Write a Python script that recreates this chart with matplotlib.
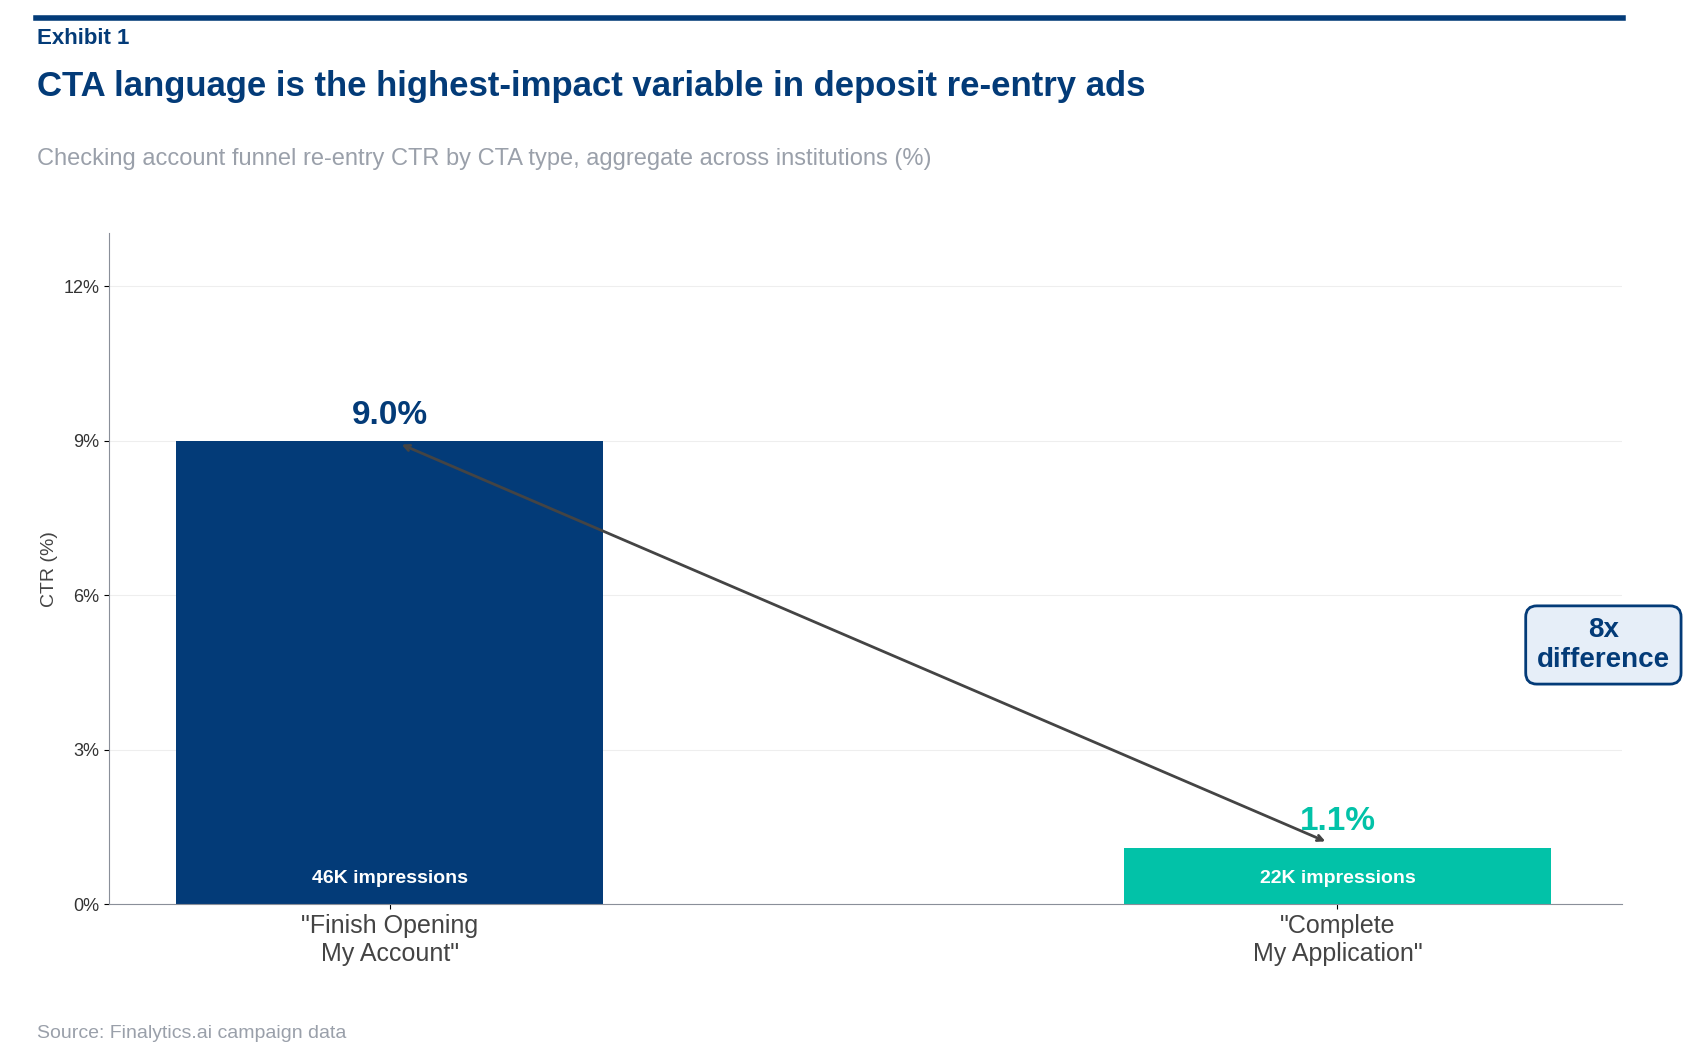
import matplotlib.pyplot as plt
from matplotlib.patches import FancyBboxPatch

plt.rcParams['font.family'] = ['Liberation Sans', 'DejaVu Sans']

categories = ['"Finish Opening\nMy Account"', '"Complete\nMy Application"']
ctr = [9.0, 1.1]
impressions = ['46K impressions', '22K impressions']
colors = ['#033b78', '#02c2a8']
yticks = [0, 3, 6, 9, 12]

W, H = 1568.0, 983.0
fig = plt.figure(figsize=(16.93, 10.62), dpi=100)

def fx(x): return x / W
def fy(y): return 1 - y / H

ax = fig.add_axes([fx(101), fy(837), fx(1502) - fx(101), fy(216) - fy(837)])
xs = list(range(len(categories)))
ax.bar(xs, ctr, width=0.45, color=colors, zorder=2)
ax.set_xlim(-0.296, 1.30)
ax.set_ylim(0, 13.03)
ax.set_yticks(yticks, labels=[f'{t}%' for t in yticks], fontsize=13, color='#333333')
ax.set_xticks(xs, labels=categories, fontsize=18, color='#444444')
ax.grid(axis='y', color='#eeeeee', zorder=0)
for s in ['top', 'right']:
    ax.spines[s].set_visible(False)
for s in ['left', 'bottom']:
    ax.spines[s].set_color('#8a8f99')
ax.set_ylabel('CTR (%)', fontsize=14, color='#444444')

for x, v, c, imp in zip(xs, ctr, colors, impressions):
    ax.text(x, v + 0.2, f'{v:.1f}%', ha='center', va='bottom', fontsize=24,
            fontweight='bold', color=c)
    ax.text(x, 0.5, imp, ha='center', va='center', fontsize=14,
            fontweight='bold', color='white')

ax.annotate('', xy=(0.01, ctr[0] - 0.05), xytext=(0.99, ctr[1] + 0.1),
            arrowprops=dict(arrowstyle='<->', color='#444444', lw=2))

fig.text(fx(1485), fy(597), '8x\ndifference', ha='center', va='center',
         fontsize=20, fontweight='bold', color='#033b78',
         bbox=dict(boxstyle='round,pad=0.4', fc='#e6eef8', ec='#033b78', lw=2))

fig.add_artist(plt.Line2D([fx(33), fx(1503)], [fy(17), fy(17)], color='#033b78', lw=4))
fig.text(fx(34), fy(36), 'Exhibit 1', fontsize=16, fontweight='bold', color='#033b78', va='center')
fig.text(fx(34), fy(80), 'CTA language is the highest-impact variable in deposit re-entry ads',
         fontsize=25, fontweight='bold', color='#033b78', va='center')
fig.text(fx(34), fy(147), 'Checking account funnel re-entry CTR by CTA type, aggregate across institutions (%)',
         fontsize=17, color='#9aa0aa', va='center')
fig.text(fx(34), fy(957), 'Source: Finalytics.ai campaign data', fontsize=14, color='#9aa0aa', va='center')

fig.savefig('out.png', dpi=100)
